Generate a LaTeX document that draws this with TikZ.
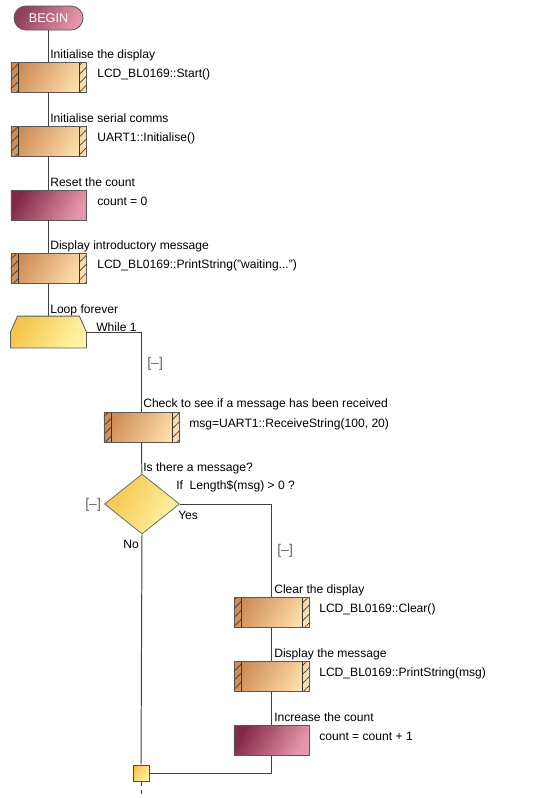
\documentclass[tikz,border=0pt]{standalone}
\usepackage{fontspec}
\setmainfont{Liberation Sans}
\usetikzlibrary{shapes.geometric,patterns.meta}
\definecolor{procdark}{RGB}{206,140,84}
\definecolor{proclight}{RGB}{253,222,172}
\definecolor{calcdark}{RGB}{130,42,72}
\definecolor{calclight}{RGB}{230,150,170}
\definecolor{decdark}{RGB}{244,196,76}
\definecolor{declight}{RGB}{255,244,164}
\begin{document}
\begin{tikzpicture}[x=0.025cm, y=-0.025cm, font=\fontsize{8.6}{10}\selectfont]
\tikzset{flow/.style={draw=black!75, line width=0.7pt},
  txt/.style={anchor=base west, inner sep=0pt},
  hatch/.style={pattern={Lines[angle=45, distance=4.5pt, line width=0.5pt]}, pattern color=black!75},
  boxbase/.style={draw=black!65, line width=0.6pt, minimum width=1.875cm, minimum height=0.75cm, inner sep=0pt},
  proc/.style={boxbase, left color=procdark, right color=proclight, shading angle=60,
    path picture={
      \fill[hatch] (path picture bounding box.south west) rectangle ([xshift=0.175cm]path picture bounding box.north west);
      \fill[hatch] (path picture bounding box.south east) rectangle ([xshift=-0.175cm]path picture bounding box.north east);
      \draw[black!80, line width=0.6pt] ([xshift=0.175cm]path picture bounding box.south west) -- ([xshift=0.175cm]path picture bounding box.north west);
      \draw[black!80, line width=0.6pt] ([xshift=-0.175cm]path picture bounding box.south east) -- ([xshift=-0.175cm]path picture bounding box.north east);}},
  calc/.style={boxbase, left color=calcdark, right color=calclight, shading angle=60},
  term/.style={draw=black!65, line width=0.6pt, rounded corners=0.3cm, minimum width=1.725cm, minimum height=0.6cm, left color=calcdark!90, right color=calclight, shading angle=60, text=white, font=\fontsize{9}{10}\selectfont},
  decbox/.style={diamond, draw=black!55, line width=0.6pt, minimum width=1.875cm, minimum height=1.5cm, aspect=1.25, inner sep=0pt, left color=decdark, right color=declight, shading angle=60},
  joinbox/.style={draw=black!70, line width=0.6pt, minimum size=0.4cm, inner sep=0pt, left color=decdark, right color=declight, shading angle=60},
  fold/.style={txt, text=black!60, font=\fontsize{10}{11}\selectfont}}
\useasboundingbox (0,0) rectangle (542,798);
\node[term] (begin) at (48.5,18) {BEGIN};
\node[proc] (disp) at (48.5,77) {};
\node[proc] (serial) at (48.5,141) {};
\node[calc] (reset) at (48.5,205) {};
\node[proc] (intro) at (48.5,268) {};
\node[boxbase, draw=none, minimum height=0.775cm] (loop) at (48.5,332) {};
\shade[draw=black!65, line width=0.6pt, left color=decdark, right color=declight, shading angle=60] (loop.south west) -- (loop.west) -- ([xshift=5]loop.north west) -- ([xshift=-5]loop.north east) -- (loop.east) -- (loop.south east) -- cycle;
\node[proc] (recv) at (141.5,427) {};
\node[decbox] (decide) at (142,504) {};
\node[proc] (clear) at (271.5,612) {};
\node[proc] (show) at (271.5,676) {};
\node[calc] (incr) at (271.5,740) {};
\node[joinbox] (join) at (141,773) {};
\coordinate (tail) at (141,798);
\node[txt] (disptxt) at (50,58) {Initialise the display};
\node[txt] (dispcode) at (97,77) {LCD\_BL0169::Start()};
\node[txt] (serialtxt) at (50,122) {Initialise serial comms};
\node[txt] (serialcode) at (97,141) {UART1::Initialise()};
\node[txt] (resettxt) at (50,186) {Reset the count};
\node[txt] (resetcode) at (97,205) {count = 0};
\node[txt] (introtxt) at (50,249) {Display introductory message};
\node[txt] (introcode) at (97,268) {LCD\_BL0169::PrintString("waiting...")};
\node[txt] (looptxt) at (50,313) {Loop forever};
\node[txt] (loopcode) at (96,331) {While 1};
\node[fold] (loopfold) at (147,367) {[–]};
\node[txt] (recvtxt) at (143,407) {Check to see if a message has been received};
\node[txt] (recvcode) at (189,427) {msg=UART1::ReceiveString(100, 20)};
\node[txt] (decidetxt) at (143,471) {Is there a message?};
\node[txt] (decidecode) at (176,489) {If\ \ Length\$(msg) > 0 ?};
\node[fold] (decidefold) at (85,508) {[–]};
\node[txt] (yes) at (178,519) {Yes};
\node[txt] (no) at (123,548) {No};
\node[fold] (yesfold) at (277,554) {[–]};
\node[txt] (cleartxt) at (274,593) {Clear the display};
\node[txt] (clearcode) at (319,612) {LCD\_BL0169::Clear()};
\node[txt] (showtxt) at (274,657) {Display the message};
\node[txt] (showcode) at (319,676) {LCD\_BL0169::PrintString(msg)};
\node[txt] (incrtxt) at (274,721) {Increase the count};
\node[txt] (incrcode) at (319,740) {count = count + 1};
\draw[flow] (begin) -- (disp);
\draw[flow] (disp) -- (serial);
\draw[flow] (serial) -- (reset);
\draw[flow] (reset) -- (intro);
\draw[flow] (intro) -- (loop.north);
\draw[flow] (loop.east) -| (recv.north);
\draw[flow] (recv) -- (decide);
\draw[flow] (decide.east) -| (clear.north);
\draw[flow] (clear) -- (show);
\draw[flow] (show) -- (incr);
\draw[flow] (incr.south) |- (join.east);
\draw[flow] (decide.south) -- (join.north);
\draw[flow, dashed] (join.south) -- (tail);
\end{tikzpicture}
\end{document}
